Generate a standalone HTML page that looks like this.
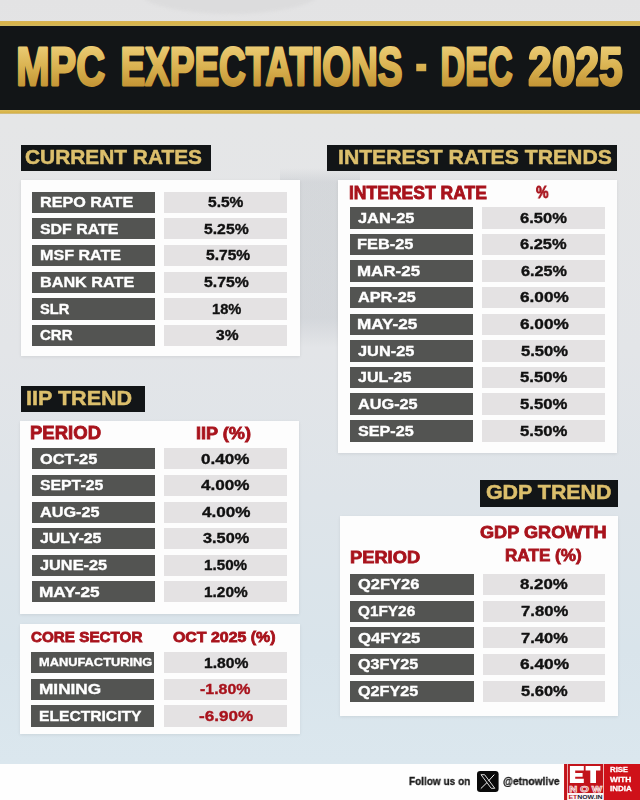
<!DOCTYPE html>
<html><head><meta charset="utf-8"><style>
*{margin:0;padding:0;box-sizing:border-box}
html,body{width:640px;height:800px;overflow:hidden}
body{position:relative;font-family:"Liberation Sans",sans-serif;
background:linear-gradient(180deg,#e3e3e4 0px,#e5e6e7 120px,#e3e5e8 350px,#dee4e9 500px,#d9e4eb 650px,#dbe7ee 763px);}
.t{position:absolute;white-space:nowrap;transform-origin:0 0;will-change:transform;}
.r{position:absolute}
</style></head><body>
<div class="r" style="left:280px;top:168px;width:80px;height:180px;background:linear-gradient(180deg,rgba(150,158,168,0) 0px,rgba(150,158,168,0.2) 14px,rgba(150,158,168,0.2) 150px,rgba(150,158,168,0) 180px);"></div>
<div class="r" style="left:140px;top:-30px;width:180px;height:44px;border-radius:50%;background:#dcdcdd;filter:blur(1.5px);"></div>
<div class="r" style="left:0.00px;top:21.00px;width:640.00px;height:5.00px;background:linear-gradient(#d6b356,#d9b447 50%,#cdb865);"></div>
<div class="r" style="left:0.00px;top:26.00px;width:640.00px;height:83.60px;background:#121517;"></div>
<div class="r" style="left:0.00px;top:109.60px;width:640.00px;height:4.40px;background:linear-gradient(#dcbe5e,#d8b244 60%,#cfc090);"></div>
<svg class="r" style="left:0;top:0" width="640" height="114" viewBox="0 0 640 114"><defs><linearGradient id="gg" gradientUnits="userSpaceOnUse" x1="0" y1="45" x2="0" y2="87"><stop offset="0" stop-color="#eccd76"/><stop offset="0.5" stop-color="#dab352"/><stop offset="1" stop-color="#c39434"/></linearGradient></defs><text transform="translate(16.33 0) scale(0.7320 1)" x="0" y="84.70" font-family="Liberation Sans" font-weight="700" font-size="54.55" fill="url(#gg)" stroke="url(#gg)" stroke-width="2.8" stroke-linejoin="round" paint-order="stroke">MPC</text><text transform="translate(120.45 0) scale(0.6778 1)" x="0" y="84.70" font-family="Liberation Sans" font-weight="700" font-size="54.55" fill="url(#gg)" stroke="url(#gg)" stroke-width="2.8" stroke-linejoin="round" paint-order="stroke">EXPECTATIONS</text><text transform="translate(440.57 0) scale(0.6247 1)" x="0" y="84.70" font-family="Liberation Sans" font-weight="700" font-size="54.55" fill="url(#gg)" stroke="url(#gg)" stroke-width="2.8" stroke-linejoin="round" paint-order="stroke">DEC</text><text transform="translate(528.35 0) scale(0.7772 1)" x="0" y="84.70" font-family="Liberation Sans" font-weight="700" font-size="54.55" fill="url(#gg)" stroke="url(#gg)" stroke-width="2.8" stroke-linejoin="round" paint-order="stroke">2025</text><rect x="416.25" y="63.75" width="10" height="7.5" fill="url(#gg)"/></svg>
<div class="r" style="left:21.00px;top:145.00px;width:190.40px;height:25.70px;background:#121517;"></div>
<div class="t " style="left:25.42px;top:147.03px;font-size:20.22px;line-height:20.22px;font-weight:700;color:#dcbf6c;transform:scaleX(1.0330);-webkit-text-stroke:0.5px #dcbf6c;">CURRENT RATES</div>
<div class="r" style="left:326.50px;top:145.00px;width:290.75px;height:25.70px;background:#121517;"></div>
<div class="t " style="left:337.59px;top:147.52px;font-size:19.64px;line-height:19.64px;font-weight:700;color:#dcbf6c;transform:scaleX(1.0793);-webkit-text-stroke:0.5px #dcbf6c;">INTEREST RATES TRENDS</div>
<div class="r" style="left:21.25px;top:386.00px;width:123.50px;height:26.00px;background:#121517;"></div>
<div class="t " style="left:25.71px;top:387.99px;font-size:20.51px;line-height:20.51px;font-weight:700;color:#dcbf6c;transform:scaleX(1.0508);-webkit-text-stroke:0.5px #dcbf6c;">IIP TREND</div>
<div class="r" style="left:480.20px;top:480.20px;width:137.80px;height:26.40px;background:#121517;"></div>
<div class="t " style="left:486.12px;top:483.42px;font-size:19.64px;line-height:19.64px;font-weight:700;color:#dcbf6c;transform:scaleX(1.0885);-webkit-text-stroke:0.5px #dcbf6c;">GDP TREND</div>
<div class="r" style="left:21.00px;top:180.00px;width:279.00px;height:175.60px;background:#fdfdfd;box-shadow:0 1px 3px rgba(0,0,0,0.08);"></div>
<div class="r" style="left:32.00px;top:191.60px;width:123.00px;height:21.20px;background:#535452;"></div>
<div class="r" style="left:164.40px;top:191.60px;width:123.10px;height:21.20px;background:#e4e2e3;"></div>
<div class="t " style="left:39.80px;top:194.92px;font-size:14.47px;line-height:14.47px;font-weight:700;color:#fff;transform:scaleX(1.1186);-webkit-text-stroke:0.35px #fff;">REPO RATE</div>
<div class="t " style="left:208.48px;top:194.92px;font-size:14.47px;line-height:14.47px;font-weight:700;color:#111;transform:scaleX(1.0745);-webkit-text-stroke:0.35px #111;">5.5%</div>
<div class="r" style="left:32.00px;top:218.30px;width:123.00px;height:21.20px;background:#535452;"></div>
<div class="r" style="left:164.40px;top:218.30px;width:123.10px;height:21.20px;background:#e4e2e3;"></div>
<div class="t " style="left:40.41px;top:221.62px;font-size:14.47px;line-height:14.47px;font-weight:700;color:#fff;transform:scaleX(1.0998);-webkit-text-stroke:0.35px #fff;">SDF RATE</div>
<div class="t " style="left:203.98px;top:221.62px;font-size:14.47px;line-height:14.47px;font-weight:700;color:#111;transform:scaleX(1.0876);-webkit-text-stroke:0.35px #111;">5.25%</div>
<div class="r" style="left:32.00px;top:245.00px;width:123.00px;height:21.20px;background:#535452;"></div>
<div class="r" style="left:164.40px;top:245.00px;width:123.10px;height:21.20px;background:#e4e2e3;"></div>
<div class="t " style="left:39.81px;top:248.32px;font-size:14.47px;line-height:14.47px;font-weight:700;color:#fff;transform:scaleX(1.1116);-webkit-text-stroke:0.35px #fff;">MSF RATE</div>
<div class="t " style="left:206.38px;top:248.32px;font-size:14.47px;line-height:14.47px;font-weight:700;color:#111;transform:scaleX(1.0777);-webkit-text-stroke:0.35px #111;">5.75%</div>
<div class="r" style="left:32.00px;top:271.70px;width:123.00px;height:21.20px;background:#535452;"></div>
<div class="r" style="left:164.40px;top:271.70px;width:123.10px;height:21.20px;background:#e4e2e3;"></div>
<div class="t " style="left:39.80px;top:275.02px;font-size:14.47px;line-height:14.47px;font-weight:700;color:#fff;transform:scaleX(1.1199);-webkit-text-stroke:0.35px #fff;">BANK RATE</div>
<div class="t " style="left:204.38px;top:275.02px;font-size:14.47px;line-height:14.47px;font-weight:700;color:#111;transform:scaleX(1.0925);-webkit-text-stroke:0.35px #111;">5.75%</div>
<div class="r" style="left:32.00px;top:298.40px;width:123.00px;height:21.20px;background:#535452;"></div>
<div class="r" style="left:164.40px;top:298.40px;width:123.10px;height:21.20px;background:#e4e2e3;"></div>
<div class="t " style="left:40.44px;top:301.72px;font-size:14.47px;line-height:14.47px;font-weight:700;color:#fff;transform:scaleX(1.0128);-webkit-text-stroke:0.35px #fff;">SLR</div>
<div class="t " style="left:211.66px;top:301.72px;font-size:14.47px;line-height:14.47px;font-weight:700;color:#111;transform:scaleX(1.0132);-webkit-text-stroke:0.35px #111;">18%</div>
<div class="r" style="left:32.00px;top:325.10px;width:123.00px;height:21.20px;background:#535452;"></div>
<div class="r" style="left:164.40px;top:325.10px;width:123.10px;height:21.20px;background:#e4e2e3;"></div>
<div class="t " style="left:40.28px;top:328.42px;font-size:14.47px;line-height:14.47px;font-weight:700;color:#fff;transform:scaleX(1.0385);-webkit-text-stroke:0.35px #fff;">CRR</div>
<div class="t " style="left:215.94px;top:328.42px;font-size:14.47px;line-height:14.47px;font-weight:700;color:#111;transform:scaleX(1.0760);-webkit-text-stroke:0.35px #111;">3%</div>
<div class="r" style="left:338.30px;top:180.00px;width:279.20px;height:273.00px;background:#fdfdfd;box-shadow:0 1px 3px rgba(0,0,0,0.08);"></div>
<div class="t " style="left:348.82px;top:184.51px;font-size:17.53px;line-height:17.53px;font-weight:700;color:#a8131c;transform:scaleX(0.9982);-webkit-text-stroke:0.8px #a8131c;">INTEREST RATE</div>
<div class="t " style="left:535.57px;top:183.65px;font-size:17.36px;line-height:17.36px;font-weight:700;color:#a8131c;transform:scaleX(0.8150);-webkit-text-stroke:0.8px #a8131c;">%</div>
<div class="r" style="left:350.00px;top:207.00px;width:123.00px;height:21.60px;background:#535452;"></div>
<div class="r" style="left:482.25px;top:207.00px;width:122.50px;height:21.60px;background:#e4e2e3;"></div>
<div class="t " style="left:357.75px;top:210.52px;font-size:14.47px;line-height:14.47px;font-weight:700;color:#fff;transform:scaleX(1.1312);-webkit-text-stroke:0.35px #fff;">JAN-25</div>
<div class="t " style="left:520.38px;top:210.52px;font-size:14.47px;line-height:14.47px;font-weight:700;color:#111;transform:scaleX(1.1439);-webkit-text-stroke:0.35px #111;">6.50%</div>
<div class="r" style="left:350.00px;top:233.63px;width:123.00px;height:21.60px;background:#535452;"></div>
<div class="r" style="left:482.25px;top:233.63px;width:122.50px;height:21.60px;background:#e4e2e3;"></div>
<div class="t " style="left:356.89px;top:237.15px;font-size:14.47px;line-height:14.47px;font-weight:700;color:#fff;transform:scaleX(1.1304);-webkit-text-stroke:0.35px #fff;">FEB-25</div>
<div class="t " style="left:520.38px;top:237.15px;font-size:14.47px;line-height:14.47px;font-weight:700;color:#111;transform:scaleX(1.1365);-webkit-text-stroke:0.35px #111;">6.25%</div>
<div class="r" style="left:350.00px;top:260.26px;width:123.00px;height:21.60px;background:#535452;"></div>
<div class="r" style="left:482.25px;top:260.26px;width:122.50px;height:21.60px;background:#e4e2e3;"></div>
<div class="t " style="left:356.86px;top:263.78px;font-size:14.47px;line-height:14.47px;font-weight:700;color:#fff;transform:scaleX(1.1712);-webkit-text-stroke:0.35px #fff;">MAR-25</div>
<div class="t " style="left:521.29px;top:263.78px;font-size:14.47px;line-height:14.47px;font-weight:700;color:#111;transform:scaleX(1.1217);-webkit-text-stroke:0.35px #111;">6.25%</div>
<div class="r" style="left:350.00px;top:286.89px;width:123.00px;height:21.60px;background:#535452;"></div>
<div class="r" style="left:482.25px;top:286.89px;width:122.50px;height:21.60px;background:#e4e2e3;"></div>
<div class="t " style="left:357.59px;top:290.41px;font-size:14.47px;line-height:14.47px;font-weight:700;color:#fff;transform:scaleX(1.1246);-webkit-text-stroke:0.35px #fff;">APR-25</div>
<div class="t " style="left:519.76px;top:290.41px;font-size:14.47px;line-height:14.47px;font-weight:700;color:#111;transform:scaleX(1.1884);-webkit-text-stroke:0.35px #111;">6.00%</div>
<div class="r" style="left:350.00px;top:313.52px;width:123.00px;height:21.60px;background:#535452;"></div>
<div class="r" style="left:482.25px;top:313.52px;width:122.50px;height:21.60px;background:#e4e2e3;"></div>
<div class="t " style="left:356.85px;top:317.04px;font-size:14.47px;line-height:14.47px;font-weight:700;color:#fff;transform:scaleX(1.1859);-webkit-text-stroke:0.35px #fff;">MAY-25</div>
<div class="t " style="left:519.76px;top:317.04px;font-size:14.47px;line-height:14.47px;font-weight:700;color:#111;transform:scaleX(1.1884);-webkit-text-stroke:0.35px #111;">6.00%</div>
<div class="r" style="left:350.00px;top:340.15px;width:123.00px;height:21.60px;background:#535452;"></div>
<div class="r" style="left:482.25px;top:340.15px;width:122.50px;height:21.60px;background:#e4e2e3;"></div>
<div class="t " style="left:357.75px;top:343.67px;font-size:14.47px;line-height:14.47px;font-weight:700;color:#fff;transform:scaleX(1.1312);-webkit-text-stroke:0.35px #fff;">JUN-25</div>
<div class="t " style="left:521.36px;top:343.67px;font-size:14.47px;line-height:14.47px;font-weight:700;color:#111;transform:scaleX(1.1493);-webkit-text-stroke:0.35px #111;">5.50%</div>
<div class="r" style="left:350.00px;top:366.78px;width:123.00px;height:21.60px;background:#535452;"></div>
<div class="r" style="left:482.25px;top:366.78px;width:122.50px;height:21.60px;background:#e4e2e3;"></div>
<div class="t " style="left:357.75px;top:370.30px;font-size:14.47px;line-height:14.47px;font-weight:700;color:#fff;transform:scaleX(1.1071);-webkit-text-stroke:0.35px #fff;">JUL-25</div>
<div class="t " style="left:520.46px;top:370.30px;font-size:14.47px;line-height:14.47px;font-weight:700;color:#111;transform:scaleX(1.1567);-webkit-text-stroke:0.35px #111;">5.50%</div>
<div class="r" style="left:350.00px;top:393.41px;width:123.00px;height:21.60px;background:#535452;"></div>
<div class="r" style="left:482.25px;top:393.41px;width:122.50px;height:21.60px;background:#e4e2e3;"></div>
<div class="t " style="left:357.59px;top:396.93px;font-size:14.47px;line-height:14.47px;font-weight:700;color:#fff;transform:scaleX(1.1240);-webkit-text-stroke:0.35px #fff;">AUG-25</div>
<div class="t " style="left:520.46px;top:396.93px;font-size:14.47px;line-height:14.47px;font-weight:700;color:#111;transform:scaleX(1.1567);-webkit-text-stroke:0.35px #111;">5.50%</div>
<div class="r" style="left:350.00px;top:420.04px;width:123.00px;height:21.60px;background:#535452;"></div>
<div class="r" style="left:482.25px;top:420.04px;width:122.50px;height:21.60px;background:#e4e2e3;"></div>
<div class="t " style="left:357.51px;top:423.56px;font-size:14.47px;line-height:14.47px;font-weight:700;color:#fff;transform:scaleX(1.1179);-webkit-text-stroke:0.35px #fff;">SEP-25</div>
<div class="t " style="left:520.46px;top:423.56px;font-size:14.47px;line-height:14.47px;font-weight:700;color:#111;transform:scaleX(1.1567);-webkit-text-stroke:0.35px #111;">5.50%</div>
<div class="r" style="left:20.00px;top:421.00px;width:278.75px;height:193.40px;background:#fdfdfd;box-shadow:0 1px 3px rgba(0,0,0,0.08);"></div>
<div class="t " style="left:29.77px;top:425.42px;font-size:17.45px;line-height:17.45px;font-weight:700;color:#a8131c;transform:scaleX(1.0620);-webkit-text-stroke:0.8px #a8131c;">PERIOD</div>
<div class="t " style="left:196.10px;top:424.94px;font-size:17.02px;line-height:17.02px;font-weight:700;color:#a8131c;transform:scaleX(1.0635);-webkit-text-stroke:0.8px #a8131c;">IIP (%)</div>
<div class="r" style="left:32.00px;top:448.30px;width:123.00px;height:21.20px;background:#535452;"></div>
<div class="r" style="left:164.00px;top:448.30px;width:123.00px;height:21.20px;background:#e4e2e3;"></div>
<div class="t " style="left:39.54px;top:451.62px;font-size:14.47px;line-height:14.47px;font-weight:700;color:#fff;transform:scaleX(1.1314);-webkit-text-stroke:0.35px #fff;">OCT-25</div>
<div class="t " style="left:201.12px;top:451.62px;font-size:14.47px;line-height:14.47px;font-weight:700;color:#111;transform:scaleX(1.1820);-webkit-text-stroke:0.35px #111;">0.40%</div>
<div class="r" style="left:32.00px;top:474.90px;width:123.00px;height:21.20px;background:#535452;"></div>
<div class="r" style="left:164.00px;top:474.90px;width:123.00px;height:21.20px;background:#e4e2e3;"></div>
<div class="t " style="left:39.72px;top:478.22px;font-size:14.47px;line-height:14.47px;font-weight:700;color:#fff;transform:scaleX(1.0922);-webkit-text-stroke:0.35px #fff;">SEPT-25</div>
<div class="t " style="left:201.15px;top:478.22px;font-size:14.47px;line-height:14.47px;font-weight:700;color:#111;transform:scaleX(1.1813);-webkit-text-stroke:0.35px #111;">4.00%</div>
<div class="r" style="left:32.00px;top:501.50px;width:123.00px;height:21.20px;background:#535452;"></div>
<div class="r" style="left:164.00px;top:501.50px;width:123.00px;height:21.20px;background:#e4e2e3;"></div>
<div class="t " style="left:39.79px;top:504.82px;font-size:14.47px;line-height:14.47px;font-weight:700;color:#fff;transform:scaleX(1.1221);-webkit-text-stroke:0.35px #fff;">AUG-25</div>
<div class="t " style="left:201.55px;top:504.82px;font-size:14.47px;line-height:14.47px;font-weight:700;color:#111;transform:scaleX(1.1813);-webkit-text-stroke:0.35px #111;">4.00%</div>
<div class="r" style="left:32.00px;top:528.10px;width:123.00px;height:21.20px;background:#535452;"></div>
<div class="r" style="left:164.00px;top:528.10px;width:123.00px;height:21.20px;background:#e4e2e3;"></div>
<div class="t " style="left:39.95px;top:531.42px;font-size:14.47px;line-height:14.47px;font-weight:700;color:#fff;transform:scaleX(1.1011);-webkit-text-stroke:0.35px #fff;">JULY-25</div>
<div class="t " style="left:202.93px;top:531.42px;font-size:14.47px;line-height:14.47px;font-weight:700;color:#111;transform:scaleX(1.1280);-webkit-text-stroke:0.35px #111;">3.50%</div>
<div class="r" style="left:32.00px;top:554.70px;width:123.00px;height:21.20px;background:#535452;"></div>
<div class="r" style="left:164.00px;top:554.70px;width:123.00px;height:21.20px;background:#e4e2e3;"></div>
<div class="t " style="left:39.95px;top:558.02px;font-size:14.47px;line-height:14.47px;font-weight:700;color:#fff;transform:scaleX(1.1274);-webkit-text-stroke:0.35px #fff;">JUNE-25</div>
<div class="t " style="left:203.93px;top:558.02px;font-size:14.47px;line-height:14.47px;font-weight:700;color:#111;transform:scaleX(1.0520);-webkit-text-stroke:0.35px #111;">1.50%</div>
<div class="r" style="left:32.00px;top:581.30px;width:123.00px;height:21.20px;background:#535452;"></div>
<div class="r" style="left:164.00px;top:581.30px;width:123.00px;height:21.20px;background:#e4e2e3;"></div>
<div class="t " style="left:39.04px;top:584.62px;font-size:14.47px;line-height:14.47px;font-weight:700;color:#fff;transform:scaleX(1.1919);-webkit-text-stroke:0.35px #fff;">MAY-25</div>
<div class="t " style="left:204.32px;top:584.62px;font-size:14.47px;line-height:14.47px;font-weight:700;color:#111;transform:scaleX(1.0645);-webkit-text-stroke:0.35px #111;">1.20%</div>
<div class="r" style="left:20.25px;top:624.40px;width:279.25px;height:110.00px;background:#fdfdfd;box-shadow:0 1px 3px rgba(0,0,0,0.08);"></div>
<div class="t " style="left:30.90px;top:630.04px;font-size:14.84px;line-height:14.84px;font-weight:700;color:#a8131c;transform:scaleX(1.0273);-webkit-text-stroke:0.8px #a8131c;">CORE SECTOR</div>
<div class="t " style="left:172.79px;top:629.42px;font-size:14.98px;line-height:14.98px;font-weight:700;color:#a8131c;transform:scaleX(1.0624);-webkit-text-stroke:0.8px #a8131c;">OCT 2025 (%)</div>
<div class="r" style="left:31.25px;top:652.10px;width:123.15px;height:21.40px;background:#535452;"></div>
<div class="r" style="left:163.75px;top:652.10px;width:123.25px;height:21.40px;background:#e4e2e3;"></div>
<div class="t " style="left:39.08px;top:657.06px;font-size:11.42px;line-height:11.42px;font-weight:700;color:#fff;transform:scaleX(1.1247);-webkit-text-stroke:0.35px #fff;">MANUFACTURING</div>
<div class="t " style="left:203.51px;top:655.52px;font-size:14.47px;line-height:14.47px;font-weight:700;color:#111;transform:scaleX(1.0832);-webkit-text-stroke:0.35px #111;">1.80%</div>
<div class="r" style="left:31.25px;top:678.80px;width:123.15px;height:21.40px;background:#535452;"></div>
<div class="r" style="left:163.75px;top:678.80px;width:123.25px;height:21.40px;background:#e4e2e3;"></div>
<div class="t " style="left:38.80px;top:682.22px;font-size:14.47px;line-height:14.47px;font-weight:700;color:#fff;transform:scaleX(1.1900);-webkit-text-stroke:0.35px #fff;">MINING</div>
<div class="t " style="left:200.16px;top:682.22px;font-size:14.47px;line-height:14.47px;font-weight:700;color:#a8131c;transform:scaleX(1.1005);-webkit-text-stroke:0.35px #a8131c;">-1.80%</div>
<div class="r" style="left:31.25px;top:705.20px;width:123.15px;height:21.40px;background:#535452;"></div>
<div class="r" style="left:163.75px;top:705.20px;width:123.25px;height:21.40px;background:#e4e2e3;"></div>
<div class="t " style="left:38.88px;top:708.62px;font-size:14.47px;line-height:14.47px;font-weight:700;color:#fff;transform:scaleX(1.0800);-webkit-text-stroke:0.35px #fff;">ELECTRICITY</div>
<div class="t " style="left:199.12px;top:708.62px;font-size:14.47px;line-height:14.47px;font-weight:700;color:#a8131c;transform:scaleX(1.1801);-webkit-text-stroke:0.35px #a8131c;">-6.90%</div>
<div class="r" style="left:339.50px;top:516.25px;width:278.00px;height:199.25px;background:#fdfdfd;box-shadow:0 1px 3px rgba(0,0,0,0.08);"></div>
<div class="t " style="left:479.50px;top:524.26px;font-size:17.24px;line-height:17.24px;font-weight:700;color:#a8131c;transform:scaleX(1.0511);-webkit-text-stroke:0.8px #a8131c;">GDP GROWTH</div>
<div class="t " style="left:504.85px;top:547.19px;font-size:17.02px;line-height:17.02px;font-weight:700;color:#a8131c;transform:scaleX(1.0061);-webkit-text-stroke:0.8px #a8131c;">RATE (%)</div>
<div class="t " style="left:349.70px;top:548.94px;font-size:17.02px;line-height:17.02px;font-weight:700;color:#a8131c;transform:scaleX(1.0749);-webkit-text-stroke:0.8px #a8131c;">PERIOD</div>
<div class="r" style="left:350.00px;top:574.10px;width:123.75px;height:20.90px;background:#535452;"></div>
<div class="r" style="left:482.50px;top:574.10px;width:122.50px;height:20.90px;background:#e4e2e3;"></div>
<div class="t " style="left:358.14px;top:577.27px;font-size:14.47px;line-height:14.47px;font-weight:700;color:#fff;transform:scaleX(1.1385);-webkit-text-stroke:0.35px #fff;">Q2FY26</div>
<div class="t " style="left:520.26px;top:577.27px;font-size:14.47px;line-height:14.47px;font-weight:700;color:#111;transform:scaleX(1.1628);-webkit-text-stroke:0.35px #111;">8.20%</div>
<div class="r" style="left:350.00px;top:600.75px;width:123.75px;height:20.90px;background:#535452;"></div>
<div class="r" style="left:482.50px;top:600.75px;width:122.50px;height:20.90px;background:#e4e2e3;"></div>
<div class="t " style="left:358.17px;top:603.92px;font-size:14.47px;line-height:14.47px;font-weight:700;color:#fff;transform:scaleX(1.0614);-webkit-text-stroke:0.35px #fff;">Q1FY26</div>
<div class="t " style="left:520.69px;top:603.92px;font-size:14.47px;line-height:14.47px;font-weight:700;color:#111;transform:scaleX(1.1521);-webkit-text-stroke:0.35px #111;">7.80%</div>
<div class="r" style="left:350.00px;top:627.40px;width:123.75px;height:20.90px;background:#535452;"></div>
<div class="r" style="left:482.50px;top:627.40px;width:122.50px;height:20.90px;background:#e4e2e3;"></div>
<div class="t " style="left:358.13px;top:630.57px;font-size:14.47px;line-height:14.47px;font-weight:700;color:#fff;transform:scaleX(1.1550);-webkit-text-stroke:0.35px #fff;">Q4FY25</div>
<div class="t " style="left:521.10px;top:630.57px;font-size:14.47px;line-height:14.47px;font-weight:700;color:#111;transform:scaleX(1.1422);-webkit-text-stroke:0.35px #111;">7.40%</div>
<div class="r" style="left:350.00px;top:654.05px;width:123.75px;height:20.90px;background:#535452;"></div>
<div class="r" style="left:482.50px;top:654.05px;width:122.50px;height:20.90px;background:#e4e2e3;"></div>
<div class="t " style="left:358.15px;top:657.22px;font-size:14.47px;line-height:14.47px;font-weight:700;color:#fff;transform:scaleX(1.1174);-webkit-text-stroke:0.35px #fff;">Q3FY25</div>
<div class="t " style="left:520.16px;top:657.22px;font-size:14.47px;line-height:14.47px;font-weight:700;color:#111;transform:scaleX(1.1958);-webkit-text-stroke:0.35px #111;">6.40%</div>
<div class="r" style="left:350.00px;top:680.70px;width:123.75px;height:20.90px;background:#535452;"></div>
<div class="r" style="left:482.50px;top:680.70px;width:122.50px;height:20.90px;background:#e4e2e3;"></div>
<div class="t " style="left:358.15px;top:683.87px;font-size:14.47px;line-height:14.47px;font-weight:700;color:#fff;transform:scaleX(1.1174);-webkit-text-stroke:0.35px #fff;">Q2FY25</div>
<div class="t " style="left:521.26px;top:683.87px;font-size:14.47px;line-height:14.47px;font-weight:700;color:#111;transform:scaleX(1.1382);-webkit-text-stroke:0.35px #111;">5.60%</div>
<div class="r" style="left:0.00px;top:763.75px;width:640.00px;height:36.25px;background:#fefefe;"></div>
<div class="t " style="left:408.87px;top:776.13px;font-size:11.56px;line-height:11.56px;font-weight:700;color:#1b1b1b;transform:scaleX(0.8687);-webkit-text-stroke:0.35px #1b1b1b;">Follow us on</div>
<svg class="r" style="left:477.3px;top:771.1px" width="21.6" height="20.9" viewBox="0 0 21.6 20.9"><rect x="0" y="0" width="21.6" height="20.9" rx="3.2" fill="#0a0a0a"/><path d="M4.0 3.7h3.6l10.2 13.6h-3.6z" fill="none" stroke="#f4f4f4" stroke-width="0.9" stroke-linejoin="round"/><path d="M17.3 3.6l-6.0 6.6M10.0 11.6l-6.2 6.0" stroke="#f4f4f4" stroke-width="1.0"/></svg>
<div class="t " style="left:503.27px;top:776.49px;font-size:11.03px;line-height:11.03px;font-weight:700;color:#1b1b1b;transform:scaleX(0.9297);-webkit-text-stroke:0.35px #1b1b1b;">@etnowlive</div>
<svg class="r" style="left:564px;top:764px" width="76" height="36" viewBox="564 764 76 36"><rect x="564.2" y="764" width="75.8" height="36" fill="#cf1119"/><rect x="564.2" y="764" width="39.6" height="36" fill="#c2141b"/><rect x="567" y="764" width="0.9" height="36" fill="#f2b8b8"/><rect x="603.1" y="764" width="0.9" height="36" fill="#f2c8c8"/><path d="M569.9 766.1h13.9v4.4h-8.6v2.4h7.4v3.9h-7.4v2.0h8.6v4.2h-13.9z" fill="#fff"/><path d="M585.6 766.1h14.8v4.4h-4.4v12.5h-5.7v-12.5h-4.7z" fill="#fff"/><text x="569.2" y="792.1" font-family="Liberation Sans" font-weight="700" font-size="8.9" textLength="33" lengthAdjust="spacingAndGlyphs" fill="#b5141b" stroke="#fbe6e6" stroke-width="0.75">N O W</text><rect x="567.4" y="793" width="36" height="7" fill="#fbf4f4"/><text x="568.4" y="798.9" font-family="Liberation Sans" font-weight="700" font-size="5.9" textLength="34.2" lengthAdjust="spacingAndGlyphs" fill="#1b2131"><tspan fill="#c0141c">ET</tspan>NOW.IN</text></svg>
<div class="t " style="left:609.63px;top:765.90px;font-size:7.85px;line-height:7.85px;font-weight:700;color:#fff;transform:scaleX(0.9834);-webkit-text-stroke:0.3px #fff;">RISE</div>
<div class="t " style="left:610.14px;top:775.70px;font-size:7.85px;line-height:7.85px;font-weight:700;color:#fff;transform:scaleX(1.0647);-webkit-text-stroke:0.3px #fff;">WITH</div>
<div class="t " style="left:610.12px;top:784.90px;font-size:7.85px;line-height:7.85px;font-weight:700;color:#fff;transform:scaleX(1.0125);-webkit-text-stroke:0.3px #fff;">INDIA</div>
</body></html>
